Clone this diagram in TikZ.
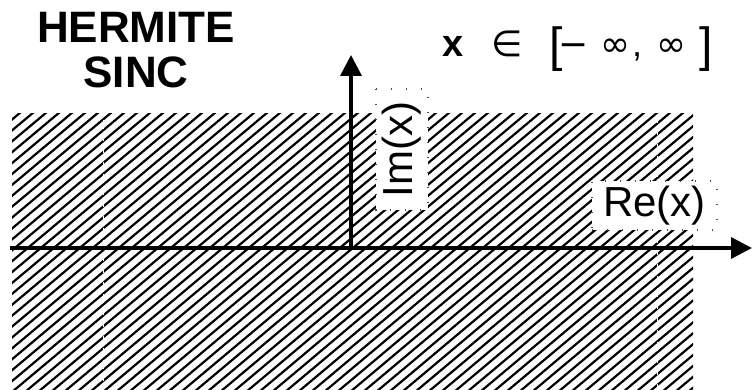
\documentclass[tikz,border=0pt]{standalone}
\usepackage{fontspec}
\setmainfont{Liberation Sans}
\newfontfamily\dv{DejaVu Sans}
\usetikzlibrary{arrows.meta}
\tikzset{
  hatchline/.style={line width=2.2pt, black},
  seam/.style={white, line width=1pt, dash pattern=on 3pt off 3pt},
  axis/.style={line width=3.5pt, -{Triangle[length=21pt,width=21pt]}},
  lblbox/.style={fill=white, draw=black!70, line width=1.3pt, dash pattern=on 1.3pt off 13.7pt, inner sep=0pt, font=\fontsize{42}{42}\selectfont},
  title/.style={anchor=base, inner sep=0pt, font=\fontsize{44}{44}\selectfont\bfseries},
  fpart/.style={anchor=base west, inner sep=0pt, font=\fontsize{36}{36}\selectfont},
}
\begin{document}
\begin{tikzpicture}[x=1pt,y=-1pt]
\useasboundingbox (0,0) rectangle (752,390);
% hatched region
\begin{scope}
  \clip (12,114) rectangle (693,390);
  \foreach \i in {-27,...,55} {
    \draw[hatchline] (12+\i*13,392) -- ++(334,-280);
  }
\end{scope}
\draw[seam] (103,114) -- (103,390);
\draw[seam] (657,114) -- (657,390);
% axes
\coordinate (hs) at (10,248);
\coordinate (he) at (752,248);
\coordinate (vs) at (351,248);
\coordinate (ve) at (351,55);
\draw[axis] (hs) -- (he);
\draw[axis] (vs) -- (ve);
% labels
\node[lblbox, rotate=90, minimum width=121pt, minimum height=52pt] (im) at (402,149.5) {Im(x)};
\node[lblbox, minimum width=125pt, minimum height=49pt] (re) at (654.5,205.5) {Re(x)};
% title
\node[title] (t1) at (136,43) {HERMITE};
\node[title] (t2) at (136,88) {SINC};
% formula
\node[fpart, font=\fontsize{38}{38}\selectfont\bfseries] (fx) at (442,57) {x};
\node[fpart, font=\fontsize{36}{36}\dv] (fin) at (491,57) {∈};
\node[fpart] (fl) at (549,57) {{\fontsize{48}{48}\selectfont\raisebox{-5pt}{[}}\hspace{-4.5pt}{\dv −}};
\node[fpart, font=\fontsize{36}{36}\dv] (fi1) at (600,57) {∞};
\node[fpart] (fc) at (632,57) {,};
\node[fpart, font=\fontsize{36}{36}\dv] (fi2) at (656,57) {∞};
\node[fpart, font=\fontsize{48}{48}\selectfont] (fr) at (699,62) {]};
\end{tikzpicture}
\end{document}
